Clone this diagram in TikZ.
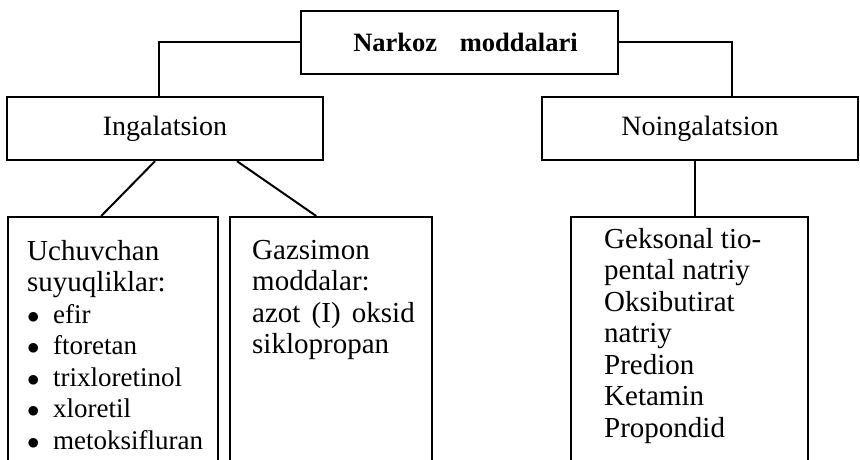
\documentclass[tikz,border=0pt]{standalone}
\usepackage{fontspec}
\setmainfont{Liberation Serif}
\usetikzlibrary{calc}

\begin{document}
\begin{tikzpicture}[x=1pt, y=-1pt,
            box/.style = {draw, line width=2.4pt, inner sep=0pt, minimum height=63pt, minimum width=316pt,
                          font=\fontsize{28}{31.5}\selectfont},
            col/.style = {draw, line width=2.4pt, inner sep=0pt, minimum height=300pt, anchor=north west},
            txt/.style = {anchor=north west, inner sep=0pt, align=left, font=\fontsize{29}{31.5}\selectfont},
            link/.style = {line width=2pt}
            ]
            \path[use as bounding box] (0,0) rectangle (860,460);
            \clip (0,0) rectangle (860,460);
            \node[box, minimum width=317pt, font=\bfseries\fontsize{26.5}{31.5}\selectfont] (narkoz) at (459.5,42.5)
                {\hspace{12pt}Narkoz\hspace{16pt} moddalari};
            \node[box] (ingal) at (165,128.5) {Ingalatsion};
            \node[box] (noingal) at (700,128.5) {Noingalatsion};
            \node[col, minimum width=210pt] (uchuv) at (7,216) {};
            \node[col, minimum width=202pt] (gazsim) at (229,216) {};
            \node[col, minimum width=237pt] (geks) at (570,216) {};
            \node[txt] (uchuvtxt) at (27,240) {Uchuvchan\\ suyuqliklar:\\
                {\fontsize{27}{31.5}\selectfont\makebox[26pt][l]{$\bullet$}efir}\\
                {\fontsize{27}{31.5}\selectfont\makebox[26pt][l]{$\bullet$}ftoretan}\\
                {\fontsize{27}{31.5}\selectfont\makebox[26pt][l]{$\bullet$}trixloretinol}\\
                {\fontsize{27}{31.5}\selectfont\makebox[26pt][l]{$\bullet$}xloretil}\\
                {\fontsize{27}{31.5}\selectfont\makebox[26pt][l]{$\bullet$}metoksifluran}};
            \node[txt] (gazsimtxt) at (252,240) {Gazsimon\\ moddalar:\\ azot\hspace{4pt} (I)\hspace{4pt} oksid\\ siklopropan};
            \node[txt] (gekstxt) at (604,228) {Geksonal tio-\\ pental natriy\\ Oksibutirat\\ natriy\\ Predion\\ Ketamin\\ Propondid};
            \draw[link] (narkoz.west) -| ([xshift=-6pt]ingal.north);
            \draw[link] (narkoz.east) -| ([xshift=32pt]noingal.north);
            \draw[link] ([xshift=-10pt]ingal.south) -- ([xshift=-12pt]uchuv.north);
            \draw[link] ([xshift=72pt]ingal.south) -- ([xshift=-15pt]gazsim.north);
            \draw[link] ([xshift=-5pt]noingal.south) -- ([xshift=-5pt]noingal.south |- geks.north);
\end{tikzpicture}
\end{document}
